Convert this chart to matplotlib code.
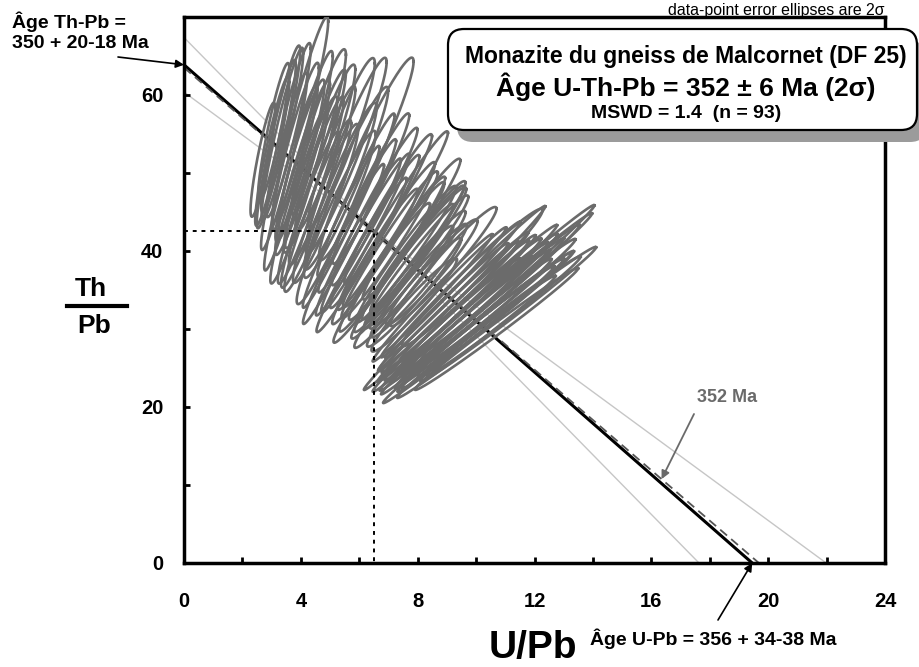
import numpy as np
import matplotlib
matplotlib.use('Agg')
import matplotlib.pyplot as plt
from matplotlib.patches import FancyBboxPatch
from matplotlib.lines import Line2D
from matplotlib.transforms import IdentityTransform

plt.rcParams['font.family'] = ['Liberation Sans', 'DejaVu Sans']

# Ages (Ma) of the fit and of the chemical isochron
age_th, age_th_plus, age_th_minus = 350, 20, 18
age_u, age_u_plus, age_u_minus = 356, 34, 38
age_mean, age_mean_err = 352, 6
mswd = 1.4
centroid_u = 6.5

# Spot analyses: U/Pb, Th/Pb and 2 sigma relative errors (%)
# high Th/U grains
u_pb_a = [2.70, 3.07, 3.16, 3.31, 3.98, 3.43, 3.81, 3.66, 4.17, 4.06, 4.61, 3.94, 4.50, 4.34, 4.84,
          4.73, 5.39, 4.58, 5.55, 4.85, 6.24, 5.36, 5.21, 3.37, 5.55, 3.02, 3.97, 4.33, 3.58, 4.32]
th_pb_a = [51.7, 55.2, 53.7, 55.7, 56.9, 51.5, 53.4, 49.4, 54.2, 50.7, 55.3, 47.2, 51.8, 47.8, 53.2,
           49.7, 53.9, 45.8, 52.2, 46.1, 51.8, 48.3, 44.3, 55.0, 48.8, 52.8, 51.6, 49.8, 55.5, 45.3]
err_pb_a = [14, 16, 20, 19, 23, 22, 20, 24, 21, 22, 19, 24, 22, 25, 20,
            23, 20, 24, 24, 22, 25, 22, 25, 20, 25, 18, 20, 20, 20, 22]
err_u_a, err_th_a = 7.0, 2.0

# intermediate grains
u_pb_b = [7.15, 7.71, 7.95, 7.88, 7.88, 7.13, 7.87, 8.88, 9.87, 5.93, 6.40, 5.97, 6.53, 6.53, 6.08, 7.02, 6.54,
          7.28, 7.79, 7.48, 8.02, 8.00, 7.52, 8.48, 5.89, 5.38, 5.46, 6.99, 7.04, 7.61, 6.21, 8.04, 6.77]
th_pb_b = [43.9, 39.0, 38.6, 34.7, 33.1, 39.6, 40.1, 38.0, 36.6, 44.5, 48.0, 41.8, 45.7, 42.5, 39.5, 42.1, 39.3,
           40.0, 42.8, 37.4, 40.1, 37.6, 35.4, 37.3, 47.2, 43.1, 40.9, 45.4, 40.8, 39.6, 42.3, 36.2, 37.2]
err_pb_b = [26, 24, 22, 20, 18, 25, 22, 20, 24, 22, 20, 24, 22, 23, 25, 22, 22,
            22, 21, 23, 20, 20, 22, 18, 22, 24, 25, 21, 23, 22, 24, 20, 24]
err_u_b, err_th_b = 4.5, 2.0

# low Th/U grains
u_pb_c = [10.56, 11.10, 9.51, 10.74, 9.55, 10.13, 9.65, 10.24, 10.16, 10.67, 10.70, 9.28, 8.81, 9.20, 9.31,
          10.80, 10.01, 9.70, 8.98, 10.83, 9.75, 8.87, 9.89, 10.94, 9.90, 9.22, 8.89, 8.51, 10.47, 10.36]
th_pb_c = [34.5, 31.9, 35.2, 34.5, 32.5, 34.4, 30.9, 32.8, 30.5, 32.0, 30.0, 33.4, 31.7, 35.0, 30.7,
           33.5, 29.0, 33.9, 30.5, 34.7, 29.3, 32.8, 32.6, 31.7, 30.7, 32.3, 34.7, 34.0, 34.6, 31.1]
err_pb_c = [33, 27, 30, 30, 28, 26, 30, 27, 28, 25, 26, 27, 30, 25, 28,
            24, 27, 24, 28, 25, 30, 25, 26, 24, 27, 28, 24, 24, 22, 28]
err_u_c, err_th_c = 2.5, 1.5

# decay constants (1/yr)
L232, L238, L235 = 4.9475e-11, 1.55125e-10, 9.8485e-10


def th_pb(t):
    return 232.038 / (207.977 * (np.exp(L232 * t * 1e6) - 1))


def u_pb(t):
    pb = (0.99275 * 205.974 / 238.029) * (np.exp(L238 * t * 1e6) - 1) \
        + (0.0072 * 206.976 / 238.029) * (np.exp(L235 * t * 1e6) - 1)
    return 1 / pb


def ellipse(x, y, epb, eu, eth, n=160):
    # correlated errors through the common Pb measurement
    epb, eu, eth = epb / 100, eu / 100, eth / 100
    cov = np.array([[x * x * (epb**2 + eu**2), x * y * epb**2],
                    [x * y * epb**2, y * y * (epb**2 + eth**2)]])
    L = np.linalg.cholesky(cov)
    t = np.linspace(0, 2 * np.pi, n)
    p = L @ np.vstack([np.cos(t), np.sin(t)])
    return x + p[0], y + p[1]


W, H = 919, 667
fig = plt.figure(figsize=(W / 100, H / 100), dpi=100)
ax = fig.add_axes([184 / W, 1 - 563 / H, (885 - 184) / W, (563 - 17) / H])


def px(x, y):
    return x / W, 1 - y / H


# isochron and its error envelope
th0 = th_pb(age_th)
u0 = u_pb(age_u)
slope = th0 / u0
xs = np.linspace(0, 24, 500)
fit = th0 - slope * xs
half0 = (th_pb(age_th - age_th_minus) - th_pb(age_th + age_th_plus)) / 2
g = half0 / centroid_u
band = np.sqrt(0.3**2 + (g * (xs - centroid_u))**2)
ax.plot(xs, fit + band, color='#c6c6c6', lw=1.0, zorder=1)
ax.plot(xs, fit - band, color='#c6c6c6', lw=1.0, zorder=1)
ax.plot([0, u0], [th0, 0], color='black', lw=2.2, zorder=2)
ax.plot([0, u_pb(age_mean)], [th_pb(age_mean), 0], color='#555555', lw=1.3,
        ls=(0, (5, 3)), zorder=2)

groups = [(u_pb_a, th_pb_a, err_pb_a, err_u_a, err_th_a),
          (u_pb_b, th_pb_b, err_pb_b, err_u_b, err_th_b),
          (u_pb_c, th_pb_c, err_pb_c, err_u_c, err_th_c)]
for us, ths, eps, eu, eth in groups:
    for x, y, e in zip(us, ths, eps):
        ex, ey = ellipse(x, y, e, eu, eth)
        ax.plot(ex, ey, color='#6b6b6b', lw=1.9, zorder=3)

# centroid projected on both axes
yc = th0 - slope * centroid_u
ax.plot([0, centroid_u, centroid_u], [yc, yc, 0], color='black', lw=1.4,
        ls=(0, (2, 2.5)), zorder=4)

ax.set_xlim(0, 24)
ax.set_ylim(0, 70)
ax.set_xticks(np.arange(0, 25, 4))
ax.set_xticks(np.arange(2, 24, 4), minor=True)
ax.set_yticks([0, 20, 40, 60])
ax.set_yticks([10, 30, 50], minor=True)
ax.set_xticklabels([str(v) for v in range(0, 25, 4)], fontweight='bold')
ax.set_yticklabels(['0', '20', '40', '60'], fontweight='bold')
ax.tick_params(which='both', direction='in', length=4.5, width=2.0, labelsize=14.5)
ax.tick_params(axis='x', pad=21)
ax.tick_params(axis='y', pad=15)
for s in ax.spines.values():
    s.set_linewidth(2.5)

# axis titles
fig.text(*px(91, 289), 'Th', ha='center', va='center', fontsize=19, fontweight='bold')
fig.add_artist(Line2D([67 / W, 127 / W], [1 - 306 / H] * 2, color='black', lw=3))
fig.text(*px(94, 326), 'Pb', ha='center', va='center', fontsize=19, fontweight='bold')
fig.text(*px(533, 648), 'U/Pb', ha='center', va='center', fontsize=28, fontweight='bold')

# intercept ages
fig.text(*px(12, 22), 'Âge Th-Pb =', ha='left', va='center', fontsize=14, fontweight='bold')
fig.text(*px(12, 44), f'{age_th} + {age_th_plus}-{age_th_minus} Ma', ha='left', va='center',
         fontsize=14, fontweight='bold')
ax.annotate('', xy=(0, th0), xycoords='data', xytext=(118, H - 57), textcoords='figure pixels',
            arrowprops=dict(arrowstyle='-|>', color='black', lw=1.2, mutation_scale=12,
                            shrinkA=0, shrinkB=0), annotation_clip=False)

fig.text(*px(590, 639), f'Âge U-Pb = {age_u} + {age_u_plus}-{age_u_minus} Ma', ha='left',
         va='center', fontsize=14, fontweight='bold')
ax.annotate('', xy=(u0, 0), xycoords='data', xytext=(718, H - 620), textcoords='figure pixels',
            arrowprops=dict(arrowstyle='-|>', color='black', lw=1.2, mutation_scale=12,
                            shrinkA=0, shrinkB=0), annotation_clip=False)

# reference age line label
x_lab = 16.35
y_lab = th_pb(age_mean) * (1 - x_lab / u_pb(age_mean))
fig.text(*px(727, 398), f'{age_mean} Ma', ha='center', va='center', fontsize=13,
         fontweight='bold', color='#6a6a6a')
ax.annotate('', xy=(x_lab, y_lab), xycoords='data', xytext=(694, H - 414),
            textcoords='figure pixels',
            arrowprops=dict(arrowstyle='-|>', color='#6a6a6a', lw=1.3, mutation_scale=12,
                            shrinkA=0, shrinkB=0), annotation_clip=False)

fig.text(885 / W, 1 - 15 / H, 'data-point error ellipses are 2σ', ha='right', va='baseline',
         fontsize=11.4)

# result box with drop shadow
shadow = FancyBboxPatch((457, H - 142), 469, 101, boxstyle='round,pad=0,rounding_size=16',
                        transform=IdentityTransform(), fc='#9b9b9b', ec='none', zorder=5)
box = FancyBboxPatch((448, H - 130), 469, 101, boxstyle='round,pad=0,rounding_size=16',
                     transform=IdentityTransform(), fc='white', ec='black', lw=1.6, zorder=6)
fig.add_artist(shadow)
fig.add_artist(box)
fig.text(*px(686, 57), 'Monazite du gneiss de Malcornet (DF 25)', ha='center', va='center',
         fontsize=16.5, fontweight='bold', zorder=7)
fig.text(*px(686, 87), f'Âge U-Th-Pb = {age_mean} ± {age_mean_err} Ma (2σ)', ha='center',
         va='center', fontsize=19, fontweight='bold', zorder=7)
n_total = len(u_pb_a) + len(u_pb_b) + len(u_pb_c)
fig.text(*px(686, 113), f'MSWD = {mswd}  (n = {n_total})', ha='center', va='center',
         fontsize=14, fontweight='bold', zorder=7)

fig.savefig('out.png', dpi=100)
